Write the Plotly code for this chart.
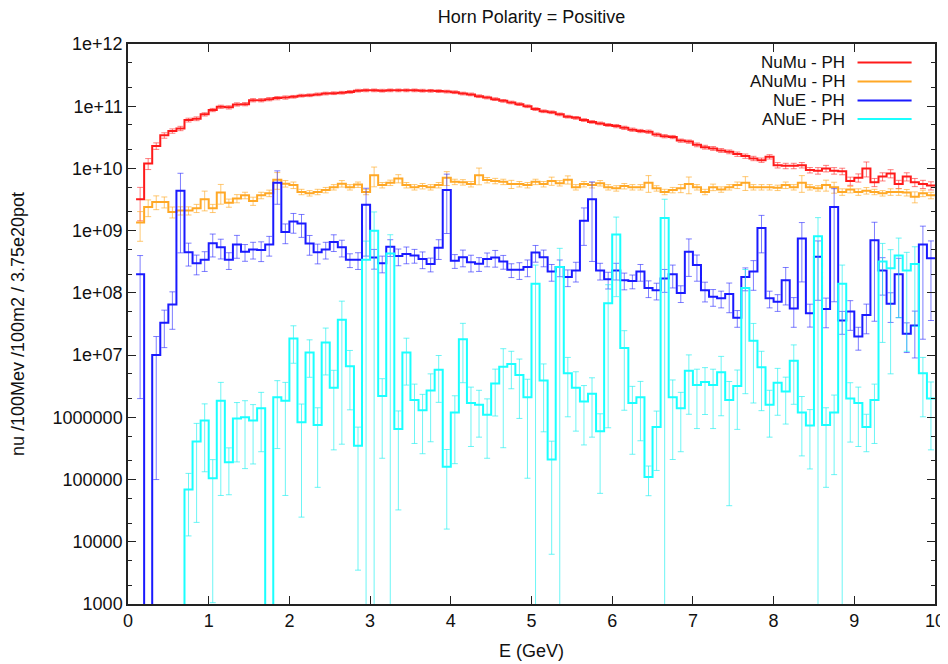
import plotly.graph_objects as go

# ---------------- data (100 MeV bins, 0-10 GeV) ----------------
bin_edges = [round(0.1 * k, 1) for k in range(101)]
bin_centers = [round(0.1 * k + 0.05, 2) for k in range(100)]

numu = [
    None, 3.2e9, 1.2e10, 2.3e10, 3.4e10, 4.0e10, 4.4e10, 6.0e10, 6.3e10, 7.4e10,
    8.7e10, 9.8e10, 9.6e10, 1.07e11, 1.08e11, 1.25e11, 1.25e11, 1.30e11, 1.35e11, 1.38e11,
    1.42e11, 1.48e11, 1.50e11, 1.55e11, 1.60e11, 1.62e11, 1.65e11, 1.70e11, 1.78e11, 1.80e11,
    1.80e11, 1.78e11, 1.80e11, 1.80e11, 1.80e11, 1.80e11, 1.78e11, 1.77e11, 1.75e11, 1.72e11,
    1.68e11, 1.60e11, 1.55e11, 1.45e11, 1.38e11, 1.30e11, 1.22e11, 1.15e11, 1.08e11, 1.00e11,
    9.0e10, 8.3e10, 8.0e10, 7.4e10, 6.8e10, 6.5e10, 6.0e10, 5.6e10, 5.3e10, 5.0e10,
    4.8e10, 4.5e10, 4.2e10, 4.0e10, 3.9e10, 3.5e10, 3.3e10, 3.2e10, 2.8e10, 2.7e10,
    2.4e10, 2.2e10, 2.1e10, 1.95e10, 1.85e10, 1.70e10, 1.58e10, 1.45e10, 1.36e10, 1.54e10,
    1.13e10, 1.10e10, 1.10e10, 1.13e10, 9.4e9, 9.2e9, 1.0e10, 9.2e9, 9.0e9, 6.3e9,
    7.1e9, 1.0e10, 6.0e9, 7.4e9, 8.3e9, 5.6e9, 7.4e9, 6.0e9, 5.6e9, 5.3e9,
]
numu_relerr = [
    0, 0.55, 0.2, 0.12, 0.1, 0.08, 0.08, 0.07, 0.07, 0.06,
    0.06, 0.06, 0.06, 0.06, 0.06, 0.06, 0.06, 0.06, 0.06, 0.06,
    0.05, 0.05, 0.05, 0.05, 0.05, 0.05, 0.05, 0.05, 0.05, 0.05,
    0.05, 0.05, 0.05, 0.05, 0.05, 0.05, 0.05, 0.05, 0.05, 0.05,
    0.05, 0.05, 0.05, 0.05, 0.05, 0.05, 0.05, 0.05, 0.05, 0.05,
    0.05, 0.05, 0.05, 0.05, 0.05, 0.05, 0.05, 0.05, 0.05, 0.05,
    0.06, 0.06, 0.06, 0.06, 0.06, 0.06, 0.06, 0.06, 0.06, 0.06,
    0.07, 0.07, 0.07, 0.07, 0.07, 0.08, 0.08, 0.08, 0.08, 0.08,
    0.1, 0.1, 0.1, 0.1, 0.1, 0.12, 0.12, 0.12, 0.12, 0.15,
    0.15, 0.27, 0.15, 0.15, 0.15, 0.15, 0.15, 0.15, 0.15, 0.15,
]

anumu = [
    None, 1.35e9, 2.4e9, 2.9e9, 2.9e9, 2.0e9, 2.1e9, 2.1e9, 2.3e9, 3.2e9,
    2.3e9, 4.1e9, 2.8e9, 3.3e9, 3.7e9, 3.0e9, 3.7e9, 4.0e9, 6.6e9, 5.7e9,
    5.4e9, 4.2e9, 4.0e9, 4.2e9, 4.5e9, 5.0e9, 5.7e9, 5.0e9, 5.5e9, 4.2e9,
    7.8e9, 5.4e9, 5.9e9, 6.9e9, 5.4e9, 5.0e9, 5.2e9, 5.0e9, 5.4e9, 7.1e9,
    6.1e9, 6.0e9, 5.6e9, 7.8e9, 6.5e9, 6.3e9, 6.1e9, 5.6e9, 5.6e9, 5.4e9,
    6.1e9, 5.6e9, 6.3e9, 5.8e9, 6.6e9, 5.0e9, 5.6e9, 5.4e9, 5.8e9, 5.0e9,
    4.8e9, 5.2e9, 5.0e9, 5.0e9, 5.9e9, 4.8e9, 4.2e9, 4.5e9, 4.8e9, 5.6e9,
    5.0e9, 4.2e9, 5.0e9, 4.6e9, 5.0e9, 5.4e9, 5.9e9, 5.0e9, 5.0e9, 5.0e9,
    4.9e9, 5.4e9, 5.0e9, 5.9e9, 5.0e9, 4.8e9, 5.4e9, 5.0e9, 4.2e9, 4.6e9,
    4.2e9, 4.4e9, 4.2e9, 4.0e9, 4.2e9, 4.2e9, 4.1e9, 3.5e9, 4.0e9, 3.7e9,
]
anumu_relerr = [
    0, 0.5, 0.3, 0.25, 0.2, 0.2, 0.15, 0.15, 0.15, 0.35,
    0.15, 0.35, 0.15, 0.15, 0.12, 0.15, 0.12, 0.12, 0.3, 0.12,
    0.12, 0.1, 0.1, 0.1, 0.1, 0.1, 0.12, 0.1, 0.1, 0.1,
    0.35, 0.1, 0.1, 0.15, 0.1, 0.1, 0.1, 0.1, 0.1, 0.25,
    0.1, 0.1, 0.1, 0.3, 0.1, 0.1, 0.1, 0.15, 0.1, 0.1,
    0.1, 0.1, 0.15, 0.1, 0.15, 0.1, 0.1, 0.1, 0.1, 0.1,
    0.1, 0.1, 0.1, 0.1, 0.3, 0.1, 0.1, 0.1, 0.15, 0.3,
    0.1, 0.1, 0.12, 0.1, 0.1, 0.12, 0.25, 0.1, 0.1, 0.1,
    0.1, 0.12, 0.1, 0.3, 0.1, 0.1, 0.2, 0.2, 0.12, 0.12,
    0.12, 0.12, 0.1, 0.1, 0.12, 0.12, 0.12, 0.2, 0.12, 0.12,
]

nue = [
    None, 2.0e8, 0, 1.0e7, 3.3e7, 6.5e7, 4.4e9, 4.5e8, 3.0e8, 3.4e8,
    6.3e8, 5.4e8, 3.4e8, 6.0e8, 4.6e8, 5.0e8, 4.9e8, 6.0e8, 5.9e9, 9.5e8,
    1.4e9, 1.3e9, 6.2e8, 4.5e8, 5.0e8, 6.6e8, 5.4e8, 3.4e8, 3.4e8, 2.6e9,
    3.7e8, 3.0e8, 5.5e8, 3.9e8, 4.2e8, 4.0e8, 3.5e8, 2.9e8, 5.3e8, 4.5e9,
    3.3e8, 3.75e8, 3.1e8, 2.95e8, 3.5e8, 3.7e8, 3.2e8, 2.35e8, 2.35e8, 2.6e8,
    4.45e8, 3.75e8, 2.2e8, 2.6e8, 1.8e8, 2.3e8, 1.45e9, 3.2e9, 2.3e8, 1.65e8,
    2.3e8, 1.6e8, 1.55e8, 2.2e8, 1.2e8, 1.1e8, 1.7e8, 2.0e8, 1.0e8, 4.6e8,
    2.8e8, 1.1e8, 8.7e7, 8.2e7, 9.6e7, 4.0e7, 1.8e8, 2.2e8, 1.1e9, 8.2e7,
    7.2e7, 1.6e8, 5.6e7, 7.5e8, 4.7e7, 3.8e8, 5.5e7, 2.4e9, 3.6e7, 5.0e7,
    2.0e7, 4.4e7, 7.0e8, 2.3e8, 6.7e7, 2.0e8, 2.2e7, 3.0e7, 6.0e8, 3.6e8,
]
nue_relerr = [
    0, 0.99, 0, 0.99, 0.6, 0.6, 0.9, 0.4, 0.35, 0.35,
    0.4, 0.35, 0.3, 0.4, 0.3, 0.3, 0.35, 0.35, 0.55, 0.35,
    0.35, 0.4, 0.35, 0.35, 0.3, 0.3, 0.3, 0.25, 0.3, 0.85,
    0.35, 0.3, 0.3, 0.3, 0.3, 0.25, 0.3, 0.25, 0.35, 0.8,
    0.25, 0.3, 0.3, 0.25, 0.25, 0.3, 0.25, 0.25, 0.3, 0.3,
    0.3, 0.3, 0.3, 0.3, 0.3, 0.35, 0.6, 0.9, 0.3, 0.3,
    0.3, 0.3, 0.25, 0.3, 0.3, 0.3, 0.4, 0.4, 0.3, 0.6,
    0.45, 0.35, 0.3, 0.3, 0.5, 0.3, 0.4, 0.5, 0.6, 0.3,
    0.3, 0.6, 0.5, 0.8, 0.4, 0.8, 0.5, 0.97, 0.4, 0.5,
    0.4, 0.5, 0.95, 0.6, 0.5, 0.8, 0.5, 0.7, 0.97, 0.9,
]

anue = [
    0, 0, 0, 0, 0, 0, 0, 6.9e4, 4.1e5, 8.9e5,
    1.05e5, 1.85e6, 1.9e5, 9.6e5, 1.0e6, 8.9e5, 1.4e6, 0, 2.1e6, 1.85e6,
    1.85e7, 8.3e5, 1.1e7, 7.5e5, 1.6e7, 3.0e6, 3.7e7, 6.6e6, 3.5e5, 3.4e8,
    1.0e9, 2.2e6, 4.3e8, 6.5e5, 1.1e7, 1.9e6, 1.3e6, 2.7e6, 5.8e6, 1.6e5,
    1.2e6, 1.8e7, 1.7e6, 1.6e6, 1.1e6, 3.5e6, 6.5e6, 7.2e6, 4.8e6, 2.1e6,
    1.4e8, 3.9e6, 2.1e5, 2.6e8, 5.1e6, 3.0e6, 1.8e6, 2.4e6, 6.0e5, 6.8e7,
    8.7e8, 1.3e7, 1.7e6, 2.1e6, 1.1e5, 7.0e5, 1.6e9, 2.1e6, 1.4e6, 5.6e6,
    3.3e6, 3.7e6, 3.3e6, 5.3e6, 1.9e6, 3.2e6, 1.2e8, 1.7e7, 6.4e6, 1.6e6,
    3.6e6, 2.6e6, 8.1e6, 1.2e6, 7.4e5, 8.1e8, 7.5e5, 1.2e6, 1.4e8, 2.0e6,
    1.7e6, 7.0e5, 1.9e6, 3.2e8, 2.5e8, 4.0e8, 2.3e8, 2.9e8, 5.1e6, 2.0e6,
]
anue_relerr = [
    0, 0, 0, 0, 0, 0, 0, 0.82, 0.95, 0.85,
    0.99, 0.97, 0.7, 0.8, 0.85, 0.8, 0.8, 0, 0.85, 0.97,
    0.6, 0.97, 0.6, 0.9, 0.7, 0.9, 0.99, 0.8, 0.99, 1.0,
    1.0, 0.9, 1.0, 0.95, 0.7, 0.8, 0.8, 0.85, 0.7, 0.9,
    0.85, 0.8, 0.8, 0.7, 0.8, 0.7, 0.95, 0.6, 0.8, 0.95,
    1.0, 0.85, 0.97, 1.0, 0.8, 0.8, 0.8, 0.8, 0.9, 0.99,
    0.9, 0.9, 0.85, 0.8, 0.5, 0.8, 1.0, 0.9, 0.8, 0.8,
    0.8, 0.7, 0.8, 0.8, 0.98, 0.8, 0.98, 0.9, 0.8, 0.7,
    0.7, 0.7, 0.8, 0.8, 0.8, 1.0, 0.9, 0.9, 1.0, 0.8,
    0.8, 0.6, 0.8, 0.95, 0.98, 0.9, 0.95, 0.9, 0.8, 0.85,
]

series_names = ["NuMu - PH", "ANuMu - PH", "NuE - PH", "ANuE - PH"]
x_ticks = [0, 1, 2, 3, 4, 5, 6, 7, 8, 9, 10]
y_tick_vals = [1e3, 1e4, 1e5, 1e6, 1e7, 1e8, 1e9, 1e10, 1e11, 1e12]
y_tick_text = ["1000", "10000", "100000", "1000000", "1e+07", "1e+08",
               "1e+09", "1e+10", "1e+11", "1e+12"]
y_minor_vals = [2e3, 5e3, 2e4, 5e4, 2e5, 5e5, 2e6, 5e6, 2e7, 5e7,
                2e8, 5e8, 2e9, 5e9, 2e10, 5e10, 2e11, 5e11]

# ---------------- styling ----------------
FONT = "Liberation Sans, Arial, Helvetica, sans-serif"
colors = ["#ff1a1a", "#ffa826", "#1a1aff", "#1affff"]
err_colors = ["rgba(255,40,40,0.6)", "rgba(255,170,40,0.65)",
              "rgba(40,40,255,0.6)", "rgba(30,240,240,0.65)"]
FLOOR = 1e-1  # zero bins drawn below the visible range (clipped)


def step_y(vals):
    ys = [None if v is None else (FLOOR if v == 0 else v) for v in vals]
    return ys + [ys[-1]]


def err_points(vals, rel):
    ys, es = [], []
    for v, r in zip(vals, rel):
        if v is None or v == 0:
            ys.append(None)
            es.append(None)
        else:
            ys.append(v)
            es.append(v * r)
    return ys, es


fig = go.Figure()
all_series = [(numu, numu_relerr), (anumu, anumu_relerr),
              (nue, nue_relerr), (anue, anue_relerr)]
for i, (vals, rel) in enumerate(all_series):
    yv, ev = err_points(vals, rel)
    fig.add_trace(go.Scatter(
        x=bin_centers, y=yv, mode="markers",
        marker=dict(size=1, color=colors[i]),
        error_y=dict(type="data", array=ev, symmetric=True,
                     color=err_colors[i], thickness=1, width=3),
        showlegend=False, hoverinfo="skip"))
    fig.add_trace(go.Scatter(
        x=bin_edges, y=step_y(vals), mode="lines",
        line=dict(color=colors[i], width=2, shape="hv"),
        connectgaps=False, name=series_names[i],
        showlegend=False, hoverinfo="skip"))

axis_common = dict(
    showline=True, linecolor="#222", linewidth=1.5, mirror="ticks",
    ticks="inside", ticklen=8, tickwidth=1, tickcolor="#222",
    showgrid=False, zeroline=False, automargin=False,
    tickfont=dict(family=FONT, size=18, color="#111"),
)

fig.update_xaxes(
    range=[0, 10], tickmode="array", tickvals=x_ticks,
    ticktext=[str(t) for t in x_ticks], ticklabelstandoff=0,
    title=dict(text="E (GeV)", font=dict(family=FONT, size=18, color="#111"),
               standoff=14),
    **axis_common)

fig.update_yaxes(
    type="log", range=[3, 12], tickmode="array", tickvals=y_tick_vals,
    ticktext=y_tick_text, ticklabelstandoff=0,
    minor=dict(tickmode="array", tickvals=y_minor_vals, ticks="inside",
               ticklen=4, tickwidth=1, tickcolor="#222", showgrid=False),
    title=dict(text="nu /100Mev /100m2 / 3.75e20pot",
               font=dict(family=FONT, size=18, color="#111"), standoff=24),
    **axis_common)

# legend (text on the left, line sample on the right, as in the original)
legend_rows_y = [0.967, 0.933, 0.899, 0.866]
for i, name in enumerate(series_names):
    fig.add_annotation(
        x=0.891, y=legend_rows_y[i], xref="paper", yref="paper",
        text=name, showarrow=False, xanchor="right", yanchor="middle",
        font=dict(family=FONT, size=17, color="#111"))
    fig.add_shape(
        type="line", xref="paper", yref="paper",
        x0=0.904, x1=0.971, y0=legend_rows_y[i], y1=legend_rows_y[i],
        line=dict(color=colors[i], width=2))

# the page body adds an 8px offset, so the figure is sized/margined to match
fig.update_layout(
    width=940, height=656,
    margin=dict(l=120, r=13, t=36, b=60),
    paper_bgcolor="white", plot_bgcolor="white",
    title=dict(text="Horn Polarity = Positive", x=0.5, xref="paper",
               xanchor="center", y=1 - 9 / 656, yref="container",
               yanchor="middle",
               font=dict(family=FONT, size=18, color="#111")),
    showlegend=False,
)

fig.write_html("out.html")
